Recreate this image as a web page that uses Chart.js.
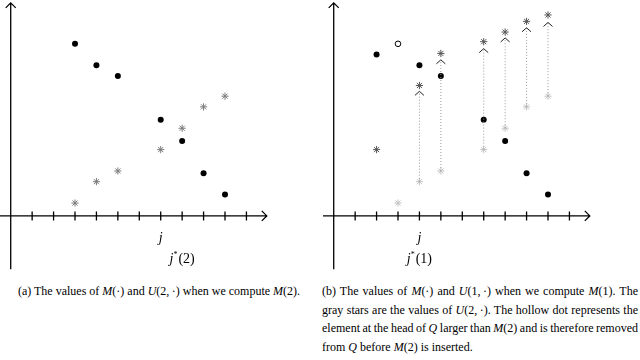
<!DOCTYPE html>
<html>
<head>
<meta charset="utf-8">
<script src="https://cdn.jsdelivr.net/npm/chart.js@4/dist/chart.umd.min.js"></script>
<style>
  body { margin: 0; background: #fff; width: 640px; height: 360px; overflow: hidden; position: relative; }
  .panel { position: absolute; top: 0; }
  .cap { position: absolute; font-family: "Liberation Serif", serif; font-size: 12px; line-height: 18.7px; color: #000; }
  .cap div { white-space: nowrap; }
  .cap .j { text-align: justify; text-align-last: justify; word-spacing: -1px; }
  #capA { left: 0; width: 318px; top: 282px; text-align: center; }
  #capB { left: 322px; width: 316px; top: 282px; text-align: left; }
</style>
</head>
<body>
<div class="panel" style="left:0"><canvas id="chartA" width="300" height="280"></canvas></div>
<div class="panel" style="left:323px"><canvas id="chartB" width="300" height="280"></canvas></div>
<div class="cap" id="capA">(a) The values of <i>M</i>(&middot;) and <i>U</i>(2,&thinsp;&middot;) when we compute <i>M</i>(2).</div>
<div class="cap" id="capB">
  <div class="j">(b) The values of <i>M</i>(&middot;) and <i>U</i>(1,&thinsp;&middot;) when we compute <i>M</i>(1). The</div>
  <div class="j">gray stars are the values of <i>U</i>(2,&thinsp;&middot;). The hollow dot represents the</div>
  <div class="j">element at the head of <i>Q</i> larger than <i>M</i>(2) and is therefore removed</div>
  <div>from <i>Q</i> before <i>M</i>(2) is inserted.</div>
</div>
<script>
/*********************************************************************/
/******************************  Data  *******************************/
/*********************************************************************/
var tickJ = [1, 2, 3, 4, 5, 6, 7, 8, 9, 10, 11];

// panel (a)
var mJA = [3, 4, 5, 7, 8, 9, 10];
var mValA = [16.1, 14.1, 13.1, 9.0, 7.0, 4.0, 2.0];
var uJA = [3, 4, 5, 7, 8, 9, 10];
var uValA = [1.2, 3.2, 4.2, 6.2, 8.2, 10.2, 11.2];
var labelsA = [{ at: 7, row: 0, text: 'j' }, { at: 8, row: 1, text: '(2)' }];

// panel (b)
var mJB = [2, 4, 5, 7, 8, 9, 10];
var mValB = [15.1, 14.1, 13.1, 9.0, 7.0, 4.0, 2.0];
var hollowJB = [3];
var hollowValB = [16.1];
var u1JB = [2, 4, 5, 7, 8, 9, 10];
var u1ValB = [6.2, 12.2, 15.2, 16.3, 17.2, 18.2, 18.8];
var u2JB = [3, 4, 5, 7, 8, 9, 10];
var u2ValB = [1.2, 3.2, 4.2, 6.2, 8.2, 10.2, 11.2];
var arrowJB = [4, 5, 7, 8, 9, 10];
var arrowFromB = [3.2, 4.2, 6.2, 8.2, 10.2, 11.2];
var arrowToB = [11.65, 14.6, 15.65, 16.65, 17.6, 18.1];
var labelsB = [{ at: 4, row: 0, text: 'j' }, { at: 4, row: 1, text: '(1)' }];

var axisX = [-0.5, 11.95];
var axisY = [-5.0, 19.93];

function pts(xs, ys) {
    return xs.map(function (x, i) { return { x: x, y: ys[i] }; });
}

/*************************  Axes plugin  *****************************/
var axesPlugin = {
    id: 'axes',
    beforeDatasetsDraw: function (chart) {
        var ctx = chart.ctx, sx = chart.scales.x, sy = chart.scales.y;
        var x0 = sx.getPixelForValue(0), y0 = sy.getPixelForValue(0);
        var xl = sx.getPixelForValue(axisX[0]), xr = sx.getPixelForValue(axisX[1]);
        var yb = sy.getPixelForValue(axisY[0]), yt = sy.getPixelForValue(axisY[1]);
        ctx.save();
        ctx.strokeStyle = '#000';
        ctx.lineWidth = 1.3;
        ctx.beginPath();
        ctx.moveTo(xl, y0); ctx.lineTo(xr, y0);
        ctx.moveTo(x0, yb); ctx.lineTo(x0, yt);
        // arrowheads
        ctx.moveTo(xr - 5, y0 - 5); ctx.lineTo(xr, y0); ctx.lineTo(xr - 5, y0 + 5);
        ctx.moveTo(x0 - 5, yt + 5); ctx.lineTo(x0, yt); ctx.lineTo(x0 + 5, yt + 5);
        tickJ.forEach(function (j) {
            var px = sx.getPixelForValue(j);
            ctx.moveTo(px, y0 - 4.5); ctx.lineTo(px, y0 + 4.5);
        });
        ctx.stroke();

        // axis labels
        var labels = chart.options.plugins.axes.labels;
        ctx.fillStyle = '#000';
        ctx.textBaseline = 'middle';
        labels.forEach(function (l) {
            var px = sx.getPixelForValue(l.at);
            var py = y0 + 22 + l.row * 21;
            if (l.row === 0) {
                ctx.font = 'italic 14px "Liberation Serif"';
                ctx.textAlign = 'center';
                ctx.fillText(l.text, px, py);
            } else {
                ctx.font = 'italic 14px "Liberation Serif"';
                var wj = ctx.measureText('j').width;
                ctx.font = '8px "Liberation Serif"';
                var ws = ctx.measureText('*').width;
                ctx.font = '14px "Liberation Serif"';
                var wp = ctx.measureText(l.text).width;
                var start = px - (wj + ws + 1 + wp) / 2;
                ctx.textAlign = 'left';
                ctx.font = 'italic 14px "Liberation Serif"';
                ctx.fillText('j', start, py);
                ctx.font = '8px "Liberation Serif"';
                ctx.fillText('*', start + wj, py - 4);
                ctx.font = '14px "Liberation Serif"';
                ctx.fillText(l.text, start + wj + ws + 1, py);
            }
        });
        ctx.restore();
    },
    afterDatasetsDraw: function (chart) {
        var ctx = chart.ctx;
        ctx.save();
        ctx.strokeStyle = '#222';
        ctx.lineWidth = 1;
        chart.data.datasets.forEach(function (ds, i) {
            if (!ds.isArrow) return;
            var p = chart.getDatasetMeta(i).data[1];
            ctx.beginPath();
            ctx.moveTo(p.x - 4.5, p.y + 4);
            ctx.lineTo(p.x, p.y);
            ctx.lineTo(p.x + 4.5, p.y + 4);
            ctx.stroke();
        });
        ctx.restore();
    }
};

function baseOptions(labels) {
    return {
        responsive: false,
        animation: false,
        events: [],
        layout: { padding: 0, autoPadding: false },
        scales: {
            x: { type: 'linear', min: -0.5, max: 13.5, display: false },
            y: { type: 'linear', min: -6, max: 20.2, display: false }
        },
        plugins: {
            legend: { display: false },
            tooltip: { enabled: false },
            axes: { labels: labels }
        }
    };
}

function dots(data, color) {
    return { data: data, pointStyle: 'circle', pointRadius: 3, backgroundColor: color, borderWidth: 0 };
}
function stars(data, color) {
    return { data: data, pointStyle: 'star', pointRadius: 3.6, borderColor: color, backgroundColor: color, borderWidth: 1 };
}

/****************************  Panel (a)  ****************************/
new Chart(document.getElementById('chartA'), {
    type: 'scatter',
    data: {
        datasets: [
            dots(pts(mJA, mValA), '#000'),
            stars(pts(uJA, uValA), '#7a7a7a')
        ]
    },
    options: baseOptions(labelsA),
    plugins: [axesPlugin]
});

/****************************  Panel (b)  ****************************/
var arrowSets = arrowJB.map(function (j, i) {
    return {
        isArrow: true,
        data: [{ x: j, y: arrowFromB[i] }, { x: j, y: arrowToB[i] }],
        showLine: true,
        borderColor: '#999',
        borderWidth: 1,
        borderDash: [1, 2],
        pointRadius: 0
    };
});

new Chart(document.getElementById('chartB'), {
    type: 'scatter',
    data: {
        datasets: arrowSets.concat([
            stars(pts(u2JB, u2ValB), '#c4c4c4'),
            dots(pts(mJB, mValB), '#000'),
            { data: pts(hollowJB, hollowValB), pointStyle: 'circle', pointRadius: 2.8, backgroundColor: '#fff', borderColor: '#000', borderWidth: 1 },
            stars(pts(u1JB, u1ValB), '#555')
        ])
    },
    options: baseOptions(labelsB),
    plugins: [axesPlugin]
});
</script>
</body>
</html>
